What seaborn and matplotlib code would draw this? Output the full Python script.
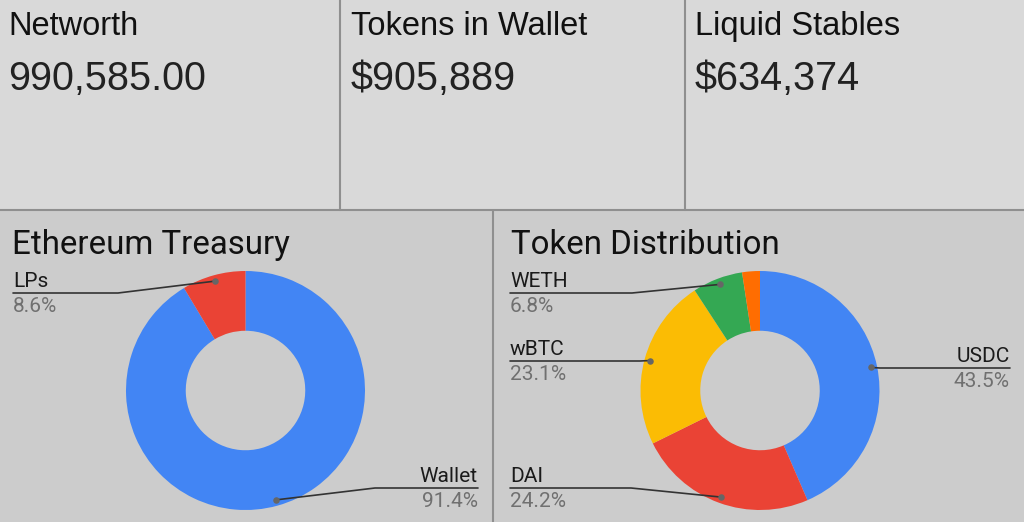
import matplotlib
matplotlib.use("Agg")
import numpy as np
import matplotlib.pyplot as plt
from matplotlib.patches import Rectangle
import seaborn as sns

# card numbers
card_titles = ["Networth", "Tokens in Wallet", "Liquid Stables"]
card_values = ["990,585.00", "$905,889", "$634,374"]

# donut data
eth_labels = ["Wallet", "LPs"]
eth_share = [91.4, 8.6]
token_labels = ["USDC", "DAI", "wBTC", "WETH", "Other"]
token_share = [43.5, 24.2, 23.1, 6.8, 2.4]

palette = sns.color_palette(["#4285f4", "#ea4335", "#fbbc04", "#34a853", "#ff6d01"])

sns.set_theme(style="white")
plt.rcParams["font.family"] = ["Roboto", "DejaVu Sans"]

W, H = 1024, 522
fig = plt.figure(figsize=(W / 100, H / 100), dpi=100)
ax = fig.add_axes([0, 0, 1, 1])


def Y(y):
    # image row -> axes y (y grows upward)
    return H - y


# backgrounds + borders
ax.add_patch(Rectangle((0, Y(210)), W, 210, color="#d9d9d9", lw=0, zorder=0))
ax.add_patch(Rectangle((0, 0), W, Y(210), color="#cccccc", lw=0, zorder=0))
border = dict(color="#8f8f8f", lw=1.5, zorder=1)
ax.plot([0, W], [Y(210), Y(210)], **border)
for x in (340, 684.5):
    ax.plot([x, x], [Y(0), Y(210)], **border)
ax.plot([493, 493], [Y(211), 0], **border)

# top cards
card_x = [8, 351, 695]
for x, t, v in zip(card_x, card_titles, card_values):
    ax.text(x, Y(35), t, fontsize=23.5, family="Liberation Sans", color="#111111", va="baseline")
    ax.text(x, Y(90), v, fontsize=28.5, family="Liberation Sans", color="#222222", va="baseline")

# panel titles
ax.text(12, Y(254), "Ethereum Treasury", fontsize=23.8, color="#111111", va="baseline")
ax.text(511, Y(254), "Token Distribution", fontsize=23.8, color="#111111", va="baseline")


def donut(values, labels, center, R, layout):
    wedges, _ = ax.pie(values, colors=palette[:len(values)], startangle=90, counterclock=False,
                       radius=R, center=(center[0], Y(center[1])),
                       wedgeprops=dict(width=R / 2, linewidth=0))
    total = sum(values)
    for w, lab, val in zip(wedges, labels, values):
        if lab not in layout:
            continue
        tx, ly, ex, side = layout[lab]
        mid = np.deg2rad((w.theta1 + w.theta2) / 2)
        dx = center[0] + 0.95 * R * np.cos(mid)
        dy = Y(center[1]) + 0.95 * R * np.sin(mid)
        ax.plot([tx, ex, dx], [Y(ly), Y(ly), dy], color="#333333", lw=1.2, zorder=3)
        ax.scatter([dx], [dy], s=22, color="#666666", zorder=4, linewidths=0)
        ha = "left" if side == "left" else "right"
        ax.text(tx, Y(ly - 6), lab, fontsize=15, color="#1a1a1a", ha=ha, va="baseline")
        ax.text(tx, Y(ly + 19), f"{val / total * 100:.1f}%", fontsize=15,
                color="#707070", ha=ha, va="baseline")


donut(eth_share, eth_labels, (245.5, 390.5), 119.5, {
    "LPs": (13, 293, 118, "left"),
    "Wallet": (478, 488, 375, "right"),
})
donut(token_share, token_labels, (760, 390.5), 119.5, {
    "USDC": (1010, 368, 880, "right"),
    "DAI": (510, 488, 631, "left"),
    "wBTC": (510, 361, 640, "left"),
    "WETH": (510, 293, 632, "left"),
})

ax.set_xlim(0, W)
ax.set_ylim(0, H)
ax.set_aspect("auto")
ax.axis("off")

fig.savefig("out.png", dpi=100)
